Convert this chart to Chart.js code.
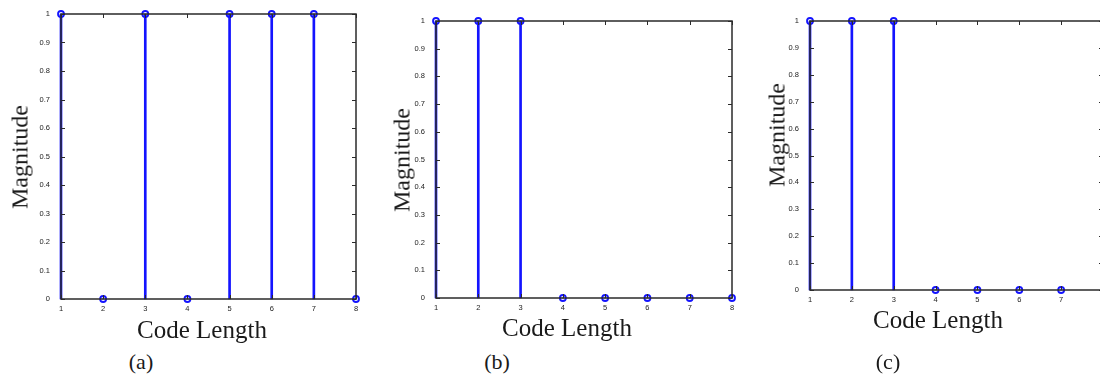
<!DOCTYPE html>
<html>
<head>
<meta charset="utf-8">
<script src="https://cdn.jsdelivr.net/npm/chart.js@4/dist/chart.umd.min.js"></script>
<style>
html, body { margin: 0; padding: 0; width: 1100px; height: 376px; overflow: hidden; background: #fff; }
canvas { position: absolute; }
.txt { position: absolute; font-family: "Liberation Serif", "DejaVu Serif", serif; color: #1a1a1a; white-space: nowrap; transform: translate(-50%, -50%); }
.ylab { font-size: 24px; transform: translate(-50%, -50%) rotate(-90deg); }
.xlab { font-size: 25px; }
.cap { font-size: 22px; }
</style>
</head>
<body>
<canvas id="chartA"></canvas>
<canvas id="chartB"></canvas>
<canvas id="chartC"></canvas>

<div class="txt ylab" style="left:20px; top:157px;">Magnitude</div>
<div class="txt ylab" style="left:402px; top:160px;">Magnitude</div>
<div class="txt ylab" style="left:777px; top:135px;">Magnitude</div>
<div class="txt xlab" style="left:202px; top:330px;">Code Length</div>
<div class="txt xlab" style="left:567px; top:328px;">Code Length</div>
<div class="txt xlab" style="left:938px; top:320px;">Code Length</div>
<div class="txt cap" style="left:141px; top:362px;">(a)</div>
<div class="txt cap" style="left:497px; top:362px;">(b)</div>
<div class="txt cap" style="left:888px; top:362px;">(c)</div>

<script>
// 数据
const codeLengthA = [1, 2, 3, 4, 5, 6, 7, 8];
const magnitudeA = [1, 0, 1, 0, 1, 1, 1, 0];
const codeLengthB = [1, 2, 3, 4, 5, 6, 7, 8];
const magnitudeB = [1, 1, 1, 0, 0, 0, 0, 0];
const codeLengthC = [1, 2, 3, 4, 5, 6, 7];
const magnitudeC = [1, 1, 1, 0, 0, 0, 0];

const stemColor = '#1414ff';
const frameColor = '#2a2a2a';

// 坐标框和向内的刻度 (MATLAB 风格)
const framePlugin = {
    id: 'frame',
    afterDraw(chart) {
        const ctx = chart.ctx;
        const a = chart.chartArea;
        const xs = chart.scales.x;
        const ys = chart.scales.y;
        ctx.save();
        ctx.strokeStyle = frameColor;
        ctx.lineWidth = 1.5;
        ctx.strokeRect(a.left, a.top, a.right - a.left, a.bottom - a.top);
        ctx.lineWidth = 1;
        ctx.beginPath();
        xs.ticks.forEach(t => {
            const px = Math.round(xs.getPixelForValue(t.value)) + 0.5;
            ctx.moveTo(px, a.top); ctx.lineTo(px, a.top + 4);
            ctx.moveTo(px, a.bottom); ctx.lineTo(px, a.bottom - 4);
        });
        ys.ticks.forEach(t => {
            const py = Math.round(ys.getPixelForValue(t.value)) + 0.5;
            ctx.moveTo(a.left, py); ctx.lineTo(a.left + 4, py);
            ctx.moveTo(a.right, py); ctx.lineTo(a.right - 4, py);
        });
        ctx.stroke();
        ctx.restore();
    }
};

function yTickLabel(value) {
    if (value === 0) return '0';
    if (value === 1) return '1';
    return value.toFixed(1);
}

function makeStemChart(id, xs, ys, area) {
    const canvas = document.getElementById(id);
    const padL = 30, padT = 10, padR = 10, padB = 25;
    const w = Math.round(area.right - area.left) + padL + padR;
    const h = Math.round(area.bottom - area.top) + padT + padB;
    canvas.width = w;
    canvas.height = h;
    canvas.style.left = (area.left - padL) + 'px';
    canvas.style.top = (area.top - padT) + 'px';
    const points = xs.map((x, i) => ({ x: x, y: ys[i] }));
    return new Chart(canvas, {
        type: 'bar',
        data: {
            datasets: [{
                type: 'scatter',
                data: points,
                pointStyle: 'circle',
                pointRadius: 3,
                pointBorderWidth: 1.8,
                pointBorderColor: stemColor,
                pointBackgroundColor: 'rgba(255,255,255,0)',
                showLine: false,
                clip: false,
                order: 0
            }, {
                type: 'bar',
                data: points,
                backgroundColor: stemColor,
                barThickness: 2,
                grouped: false,
                clip: false,
                order: 1
            }]
        },
        options: {
            responsive: false,
            animation: false,
            layout: { padding: { left: 0, top: padT, right: padR, bottom: 0 } },
            plugins: { legend: { display: false }, tooltip: { enabled: false } },
            scales: {
                x: {
                    type: 'linear',
                    offset: false,
                    min: 1,
                    max: 8,
                    grid: { display: false },
                    border: { display: false },
                    ticks: { stepSize: 1, padding: -3, color: '#222', font: { size: 7.5, family: 'Arial' } },
                    afterFit(scale) { scale.height = padB; }
                },
                y: {
                    min: 0,
                    max: 1,
                    grid: { display: false },
                    border: { display: false },
                    ticks: { stepSize: 0.1, padding: 3, color: '#222', font: { size: 7.5, family: 'Arial' }, callback: yTickLabel },
                    afterFit(scale) { scale.width = padL; }
                }
            }
        },
        plugins: [framePlugin]
    });
}

makeStemChart('chartA', codeLengthA, magnitudeA, { left: 61, top: 14, right: 356, bottom: 299 });
makeStemChart('chartB', codeLengthB, magnitudeB, { left: 436, top: 21, right: 732, bottom: 298 });
makeStemChart('chartC', codeLengthC, magnitudeC, { left: 810, top: 21, right: 1103, bottom: 290 });
</script>
</body>
</html>
